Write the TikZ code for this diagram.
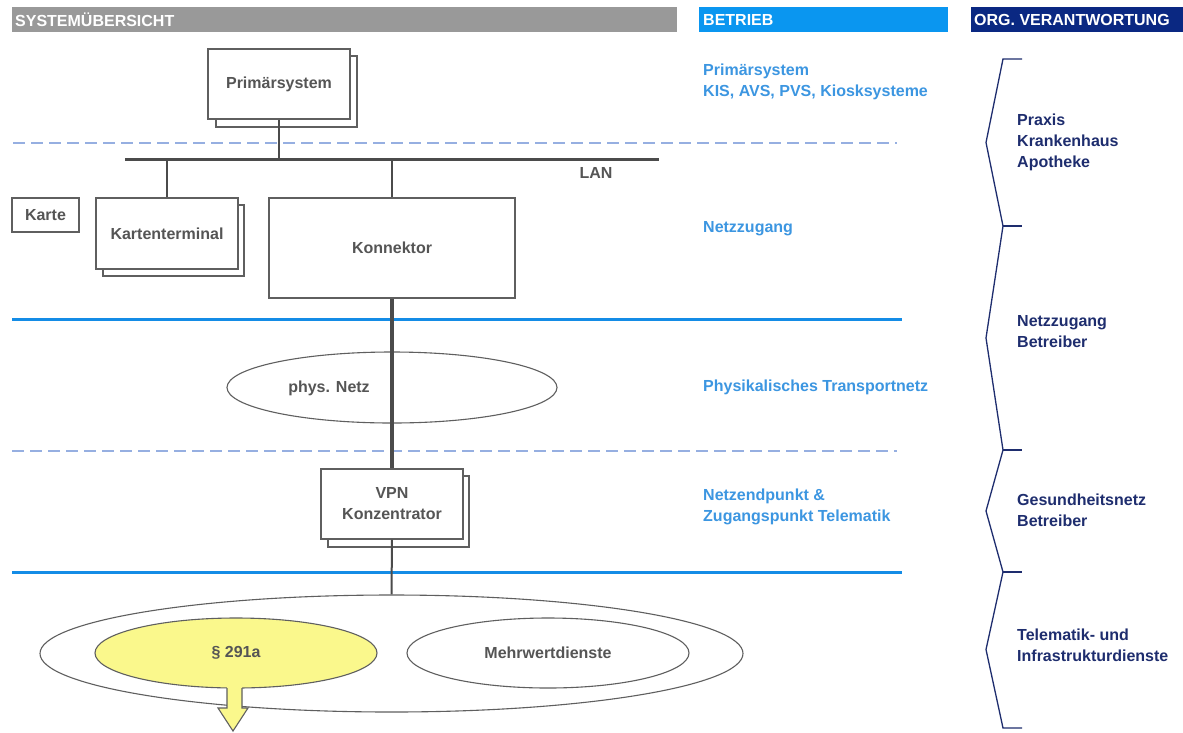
\documentclass[tikz,border=0pt]{standalone}
\usepackage{fontspec}
\setmainfont{Liberation Sans}
\usetikzlibrary{shapes.geometric}
\definecolor{hdgray}{RGB}{153,153,153}
\definecolor{hdblue}{RGB}{10,150,240}
\definecolor{hdnavy}{RGB}{10,40,130}
\definecolor{lineblue}{RGB}{20,140,230}
\definecolor{dashblue}{RGB}{150,175,225}
\definecolor{txtblue}{RGB}{60,150,225}
\definecolor{txtnavy}{RGB}{30,45,110}
\definecolor{boxtxt}{RGB}{85,85,85}
\definecolor{boxline}{RGB}{95,95,95}
\definecolor{wiregray}{RGB}{75,75,75}
\definecolor{paragraf}{RGB}{250,248,140}
\begin{document}
\begin{tikzpicture}[x=1pt,y=-1pt,
  lbl/.style={font=\fontsize{16}{21}\selectfont\bfseries, inner sep=0pt},
  hdr/.style={lbl, text=white, anchor=west},
  box/.style={rectangle, draw=boxline, line width=1.2pt, fill=white, inner sep=0pt,
              lbl, text=boxtxt, align=center},
  backbox/.style={draw=boxline, line width=1.2pt, fill=white},
  ell/.style={ellipse, draw=boxline, line width=1.1pt, fill=white, inner sep=0pt,
              lbl, text=boxtxt},
  betrieb/.style={lbl, text=txtblue, align=left, anchor=west},
  org/.style={lbl, text=txtnavy, align=left, anchor=west},
  sepdash/.style={dashblue, line width=1.6pt, dash pattern=on 12pt off 6pt},
  sepsolid/.style={lineblue, line width=3pt},
  wire/.style={draw=wiregray, line width=1.6pt},
  thinwire/.style={draw=wiregray, line width=2pt},
  lanline/.style={draw=wiregray, line width=3pt},
  trunk/.style={draw=wiregray, line width=4pt},
  bracestyle/.style={draw=txtnavy, line width=1.3pt},
]
\useasboundingbox (0,0) rectangle (1183,732);
\fill[white] (0,0) rectangle (1183,732);

% header bars
\fill[hdgray] (12,7) rectangle (677,32);
\fill[hdblue] (699,7) rectangle (948,32);
\fill[hdnavy] (971,7) rectangle (1183,32);
\node[hdr] (hsys) at (15,20) {SYSTEMÜBERSICHT};
\node[hdr] (hbet) at (703,20) {BETRIEB};
\node[hdr] (horg) at (974,20) {ORG. VERANTWORTUNG};

% layer separators
\coordinate (d1a) at (13,143); \coordinate (d1b) at (897,143);
\coordinate (s1a) at (12,319); \coordinate (s1b) at (902,319);
\coordinate (d2a) at (12,451); \coordinate (d2b) at (897,451);
\coordinate (s2a) at (12,572); \coordinate (s2b) at (902,572);
\draw[sepdash] (d1a) -- (d1b);
\draw[sepsolid] (s1a) -- (s1b);
\draw[sepdash] (d2a) -- (d2b);
\draw[sepsolid] (s2a) -- (s2b);

% boxes
\draw[backbox] (216,56) rectangle (357,127);
\node[box, minimum width=142pt, minimum height=70pt] (ps) at (279,84) {Primärsystem};

\node[box, minimum width=67pt, minimum height=34pt] (karte) at (45.5,215) {Karte};

\draw[backbox] (103,205) rectangle (244,276);
\node[box, minimum width=142pt, minimum height=71pt] (kt) at (167,233.5) {Kartenterminal};

\node[box, minimum width=246pt, minimum height=100pt] (kon) at (392,248) {Konnektor};

\draw[backbox] (328,476) rectangle (469,547);
\node[box, minimum width=142pt, minimum height=70pt] (vpn) at (392,504) {VPN\\Konzentrator};

% LAN
\coordinate (lanL) at (125,159);
\coordinate (lanR) at (659,159);
\draw[lanline] (lanL) -- (lanR);
\node[lbl, text=boxtxt] (lan) at (596,173) {LAN};
\draw[wire] (ps.south) -- (ps.south |- lanL);
\draw[wire] (kt.north) -- (kt.north |- lanL);
\draw[wire] (kon.north) -- (kon.north |- lanL);

% physical network
\node[ell, minimum width=330pt, minimum height=71pt] (phys) at (392,387.5) {};
\node[lbl, text=boxtxt] (physlbl) at (329,388) {phys. Netz};

% services
\node[ell, minimum width=703pt, minimum height=117pt] (tele) at (391.5,653.5) {};
\node[ell, fill=paragraf, minimum width=282pt, minimum height=70pt] (p291) at (236,653) {§ 291a};
\node[ell, minimum width=282pt, minimum height=70pt] (mw) at (548,653) {Mehrwertdienste};

% connectors
\draw[trunk] (kon.south) -- (vpn.north);
\draw[thinwire] (vpn.south) -- (tele.north);

% arrow out of § 291a
\fill[paragraf] (227,684) -- (227,708) -- (218,708) -- (233,731) -- (248,708) -- (242,708) -- (242,684) -- cycle;
\draw[draw=boxline, line width=1.1pt, line join=miter] (227,688) -- (227,708) -- (218,708) -- (233,731) -- (248,708) -- (242,708) -- (242,688);

% Betrieb column
\node[betrieb] (b1) at (703,81.5) {Primärsystem\\KIS, AVS, PVS, Kiosksysteme};
\node[betrieb] (b2) at (703,229) {Netzzugang};
\node[betrieb] (b3) at (703,387) {Physikalisches Transportnetz};
\node[betrieb] (b4) at (703,507) {Netzendpunkt \&\\Zugangspunkt Telematik};

% Org. Verantwortung column
\draw[bracestyle] (1022,59) -- (1003,59) -- (986,142.5) -- (1003,226) -- (986,338)
  -- (1003,450) -- (986,511) -- (1003,572) -- (986,649.5) -- (1003,728) -- (1022,728);
\draw[bracestyle] (1003,226) -- (1022,226);
\draw[bracestyle] (1003,450) -- (1022,450);
\draw[bracestyle] (1003,572) -- (1022,572);
\node[org] (o1) at (1017,142) {Praxis\\Krankenhaus\\Apotheke};
\node[org] (o2) at (1017,332) {Netzzugang\\Betreiber};
\node[org] (o3) at (1017,510) {Gesundheitsnetz\\Betreiber};
\node[org] (o4) at (1017,645) {Telematik- und\\Infrastrukturdienste};
\end{tikzpicture}
\end{document}
